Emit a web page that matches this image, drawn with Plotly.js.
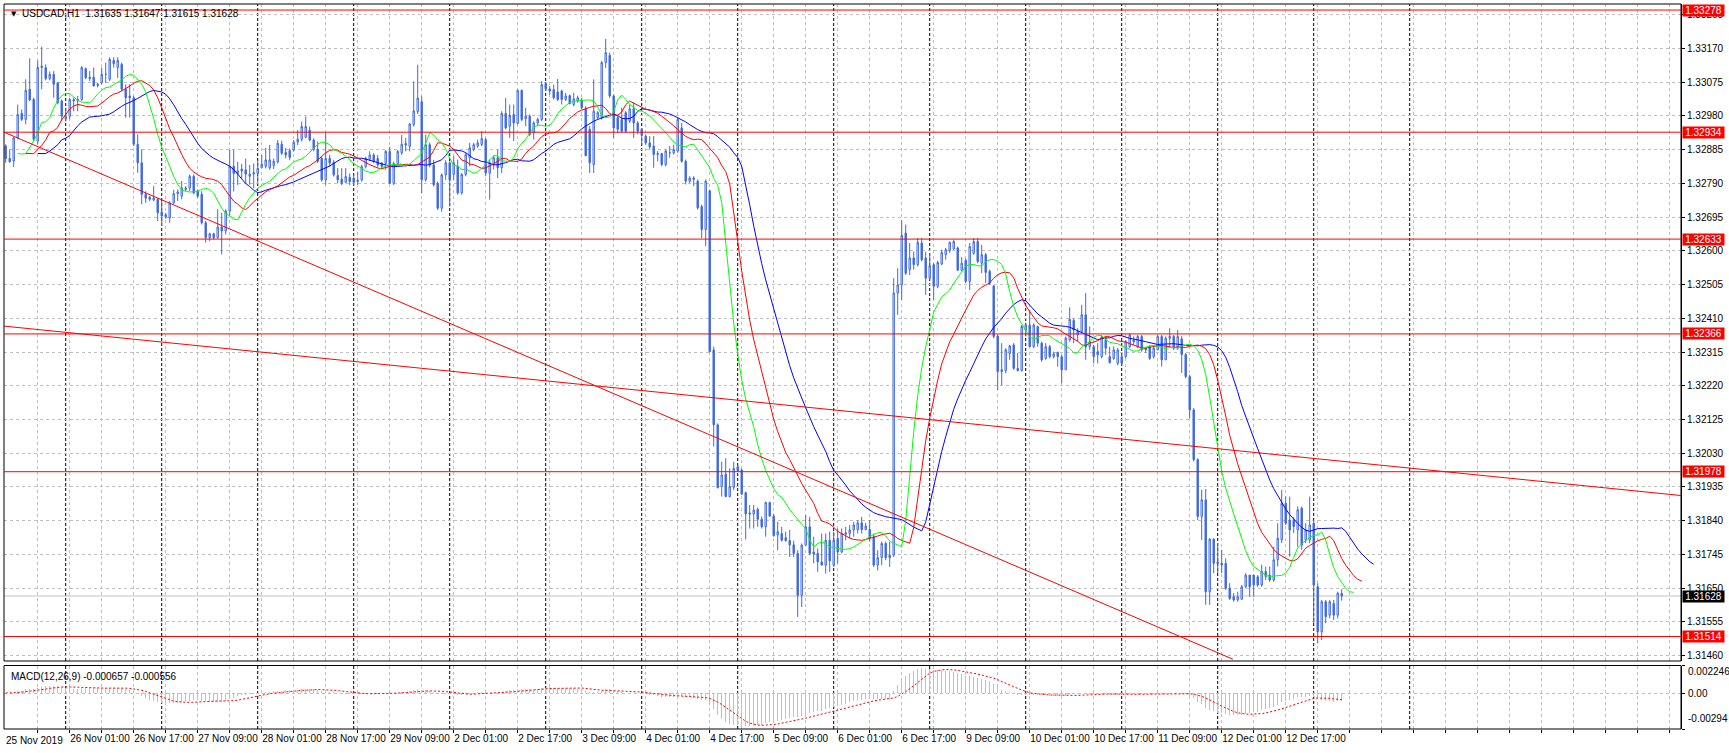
<!DOCTYPE html>
<html><head><meta charset="utf-8">
<script src="https://cdn.plot.ly/plotly-3.0.1.min.js"></script>
<style>html,body{margin:0;padding:0;background:#fff;overflow:hidden}#chart{width:1729px;height:753px}</style>
</head><body><div id="chart"></div>
<script>
// ---- USDCAD H1 candles, bar 0 = 25 Nov 2019 09:00 (one bar per trading hour) ----
const openP = [
1.32895,1.32860,1.32853,1.32918,1.32987,1.32970,1.33055,1.33026,1.32909,1.33116,
1.33116,1.33085,1.33097,1.33073,1.33022,1.32972,1.32979,1.33026,1.33022,1.33026,
1.33113,1.33085,1.33089,1.33069,1.33073,1.33097,1.33083,1.33136,1.33116,1.33125,
1.33055,1.33036,1.33031,1.32900,1.32848,1.32759,1.32751,1.32743,1.32745,1.32709,
1.32695,1.32693,1.32735,1.32761,1.32754,1.32773,1.32777,1.32810,1.32768,1.32759,
1.32679,1.32637,1.32648,1.32637,1.32667,1.32656,1.32712,1.32838,1.32818,1.32830,
1.32828,1.32810,1.32816,1.32818,1.32834,1.32838,1.32834,1.32840,1.32850,1.32900,
1.32877,1.32882,1.32884,1.32906,1.32914,1.32920,1.32940,1.32912,1.32886,1.32860,
1.32800,1.32860,1.32849,1.32812,1.32802,1.32793,1.32807,1.32805,1.32795,1.32799,
1.32837,1.32858,1.32870,1.32860,1.32847,1.32846,1.32880,1.32790,1.32846,1.32876,
1.32902,1.32894,1.32955,1.32992,1.33020,1.32800,1.32899,1.32842,1.32790,1.32720,
1.32814,1.32848,1.32815,1.32838,1.32763,1.32815,1.32862,1.32885,1.32895,1.32899,
1.32913,1.32819,1.32843,1.32862,1.32834,1.32987,1.32951,1.32984,1.32959,1.33052,
1.32972,1.32979,1.32932,1.32960,1.32970,1.33071,1.33056,1.33054,1.33047,1.33050,
1.33026,1.33037,1.33012,1.33022,1.33024,1.33000,1.32942,1.32843,1.32975,1.32975,
1.33130,1.33150,1.33036,1.32975,1.32970,1.32989,1.32965,1.33000,1.32960,1.32942,
1.32923,1.32904,1.32895,1.32871,1.32874,1.32843,1.32876,1.32876,1.32881,1.32946,
1.32852,1.32796,1.32801,1.32796,1.32725,1.32660,1.32769,1.32321,1.32110,1.31936,
1.31971,1.31908,1.31934,1.31992,1.31983,1.31919,1.31862,1.31859,1.31872,1.31844,
1.31823,1.31891,1.31853,1.31800,1.31804,1.31792,1.31784,1.31772,1.31748,1.31630,
1.31771,1.31823,1.31752,1.31748,1.31724,1.31715,1.31785,1.31715,1.31790,1.31752,
1.31802,1.31804,1.31814,1.31815,1.31834,1.31815,1.31815,1.31795,1.31715,1.31736,
1.31776,1.31743,1.31743,1.32481,1.32504,1.32650,1.32547,1.32580,1.32561,1.32622,
1.32580,1.32523,1.32561,1.32500,1.32563,1.32589,1.32601,1.32605,1.32608,1.32545,
1.32573,1.32514,1.32593,1.32626,1.32565,1.32589,1.32542,1.32501,1.32360,1.32260,
1.32263,1.32311,1.32335,1.32269,1.32263,1.32377,1.32391,1.32330,1.32387,1.32340,
1.32297,1.32330,1.32302,1.32314,1.32302,1.32265,1.32349,1.32404,1.32363,1.32373,
1.32420,1.32330,1.32330,1.32316,1.32302,1.32349,1.32302,1.32297,1.32283,1.32302,
1.32302,1.32330,1.32344,1.32330,1.32359,1.32326,1.32330,1.32302,1.32321,1.32359,
1.32293,1.32354,1.32359,1.32326,1.32352,1.32308,1.32246,1.32152,1.32012,1.31852,
1.31899,1.31640,1.31788,1.31724,1.31720,1.31720,1.31650,1.31626,1.31617,1.31619,
1.31654,1.31687,1.31687,1.31682,1.31659,1.31697,1.31687,1.31673,1.31730,1.31786,
1.31889,1.31842,1.31842,1.31814,1.31875,1.31786,1.31786,1.31833,1.31654,1.31527,
1.31612,1.31574,1.31607,1.31574,1.31635];
const highP = [
1.32900,1.32886,1.32920,1.33012,1.32998,1.33083,1.33142,1.33031,1.33136,1.33175,
1.33125,1.33105,1.33106,1.33075,1.33026,1.33003,1.33031,1.33031,1.33036,1.33120,
1.33116,1.33106,1.33116,1.33073,1.33116,1.33130,1.33145,1.33145,1.33145,1.33130,
1.33069,1.33069,1.33036,1.32928,1.32886,1.32768,1.32755,1.32782,1.32749,1.32740,
1.32707,1.32740,1.32772,1.32773,1.32796,1.32782,1.32815,1.32815,1.32773,1.32768,
1.32684,1.32651,1.32651,1.32717,1.32707,1.32717,1.32884,1.32884,1.32851,1.32845,
1.32860,1.32842,1.32846,1.32855,1.32870,1.32890,1.32898,1.32860,1.32912,1.32910,
1.32890,1.32888,1.32912,1.32940,1.32964,1.32978,1.32950,1.32917,1.32908,1.32865,
1.32934,1.32870,1.32856,1.32833,1.32833,1.32833,1.32818,1.32815,1.32823,1.32842,
1.32865,1.32880,1.32875,1.32870,1.32850,1.32884,1.32893,1.32851,1.32884,1.32926,
1.32918,1.32960,1.33077,1.33124,1.33035,1.32927,1.32905,1.32856,1.32795,1.32818,
1.32855,1.32852,1.32866,1.32857,1.32819,1.32876,1.32904,1.32904,1.32913,1.32937,
1.32918,1.32857,1.32868,1.32885,1.32993,1.33030,1.33012,1.33012,1.33054,1.33054,
1.33003,1.32984,1.32965,1.32975,1.33078,1.33075,1.33064,1.33068,1.33084,1.33054,
1.33045,1.33040,1.33045,1.33037,1.33031,1.33007,1.32951,1.33083,1.32993,1.33135,
1.33197,1.33158,1.33040,1.32979,1.33003,1.32993,1.33012,1.33017,1.32965,1.32946,
1.32928,1.32923,1.32923,1.32881,1.32876,1.32885,1.32895,1.32899,1.32975,1.32960,
1.32857,1.32810,1.32810,1.32801,1.32730,1.32801,1.32772,1.32330,1.32114,1.32006,
1.32016,1.31987,1.32006,1.31997,1.31987,1.31922,1.31884,1.31884,1.31877,1.31852,
1.31894,1.31894,1.31860,1.31837,1.31823,1.31809,1.31814,1.31784,1.31757,1.31776,
1.31856,1.31851,1.31795,1.31762,1.31804,1.31804,1.31809,1.31809,1.31818,1.31818,
1.31823,1.31828,1.31837,1.31842,1.31851,1.31834,1.31842,1.31804,1.31757,1.31781,
1.31781,1.31781,1.32523,1.32551,1.32686,1.32674,1.32622,1.32598,1.32636,1.32636,
1.32598,1.32594,1.32565,1.32572,1.32603,1.32608,1.32626,1.32631,1.32612,1.32582,
1.32579,1.32622,1.32636,1.32636,1.32617,1.32594,1.32547,1.32504,1.32363,1.32340,
1.32326,1.32335,1.32340,1.32312,1.32391,1.32396,1.32434,1.32396,1.32389,1.32344,
1.32340,1.32335,1.32316,1.32316,1.32307,1.32359,1.32441,1.32410,1.32382,1.32448,
1.32481,1.32387,1.32335,1.32340,1.32363,1.32359,1.32330,1.32330,1.32326,1.32312,
1.32349,1.32368,1.32359,1.32363,1.32363,1.32330,1.32335,1.32330,1.32363,1.32363,
1.32359,1.32382,1.32363,1.32377,1.32360,1.32312,1.32251,1.32157,1.32016,1.31927,
1.31929,1.31791,1.31791,1.31777,1.31758,1.31734,1.31664,1.31636,1.31640,1.31659,
1.31692,1.31687,1.31687,1.31687,1.31716,1.31711,1.31711,1.31767,1.31833,1.31927,
1.31908,1.31908,1.31850,1.31880,1.31880,1.31833,1.31908,1.31842,1.31664,1.31617,
1.31617,1.31617,1.31617,1.31640,1.31647];
const lowP = [
1.32848,1.32848,1.32836,1.32914,1.32965,1.32956,1.33022,1.32909,1.32900,1.33055,
1.33080,1.33080,1.33031,1.33012,1.32965,1.32965,1.32970,1.32993,1.32993,1.33022,
1.33083,1.33078,1.33064,1.33060,1.33069,1.33073,1.33078,1.33116,1.33087,1.33050,
1.32975,1.32975,1.32895,1.32820,1.32731,1.32735,1.32740,1.32740,1.32684,1.32670,
1.32690,1.32679,1.32731,1.32740,1.32745,1.32768,1.32768,1.32759,1.32749,1.32674,
1.32623,1.32627,1.32632,1.32635,1.32590,1.32646,1.32700,1.32767,1.32785,1.32805,
1.32790,1.32786,1.32776,1.32790,1.32834,1.32832,1.32828,1.32830,1.32846,1.32870,
1.32860,1.32855,1.32879,1.32898,1.32908,1.32917,1.32908,1.32880,1.32847,1.32795,
1.32786,1.32837,1.32809,1.32790,1.32785,1.32790,1.32785,1.32783,1.32786,1.32795,
1.32832,1.32854,1.32847,1.32835,1.32830,1.32828,1.32790,1.32785,1.32842,1.32870,
1.32880,1.32880,1.32950,1.32985,1.32762,1.32795,1.32835,1.32781,1.32715,1.32710,
1.32800,1.32725,1.32800,1.32758,1.32758,1.32810,1.32838,1.32880,1.32890,1.32895,
1.32810,1.32744,1.32829,1.32805,1.32819,1.32942,1.32918,1.32909,1.32956,1.32965,
1.32951,1.32923,1.32913,1.32951,1.32965,1.33050,1.33040,1.33026,1.33022,1.33012,
1.33022,1.33012,1.33007,1.33017,1.32998,1.32866,1.32819,1.32819,1.32970,1.32970,
1.33115,1.33031,1.32918,1.32932,1.32932,1.32932,1.32960,1.32918,1.32928,1.32899,
1.32899,1.32885,1.32834,1.32852,1.32838,1.32838,1.32862,1.32871,1.32876,1.32848,
1.32787,1.32791,1.32782,1.32716,1.32636,1.32613,1.32316,1.32049,1.31931,1.31908,
1.31906,1.31906,1.31926,1.31978,1.31912,1.31787,1.31818,1.31818,1.31823,1.31818,
1.31795,1.31851,1.31795,1.31757,1.31781,1.31781,1.31738,1.31738,1.31569,1.31597,
1.31771,1.31743,1.31720,1.31696,1.31715,1.31691,1.31696,1.31710,1.31720,1.31748,
1.31785,1.31790,1.31795,1.31804,1.31804,1.31813,1.31781,1.31710,1.31700,1.31715,
1.31729,1.31710,1.31738,1.32420,1.32462,1.32532,1.32532,1.32547,1.32556,1.32570,
1.32476,1.32518,1.32462,1.32495,1.32560,1.32575,1.32594,1.32603,1.32545,1.32542,
1.32509,1.32490,1.32589,1.32565,1.32537,1.32509,1.32504,1.32354,1.32208,1.32222,
1.32255,1.32293,1.32265,1.32260,1.32260,1.32359,1.32330,1.32326,1.32330,1.32288,
1.32293,1.32297,1.32297,1.32274,1.32227,1.32265,1.32344,1.32340,1.32344,1.32368,
1.32293,1.32321,1.32283,1.32283,1.32297,1.32307,1.32283,1.32293,1.32278,1.32278,
1.32297,1.32326,1.32335,1.32326,1.32316,1.32312,1.32293,1.32297,1.32321,1.32274,
1.32293,1.32330,1.32321,1.32321,1.32256,1.32241,1.32129,1.32007,1.31842,1.31786,
1.31603,1.31603,1.31692,1.31692,1.31692,1.31645,1.31617,1.31612,1.31612,1.31617,
1.31650,1.31626,1.31626,1.31654,1.31654,1.31673,1.31668,1.31668,1.31711,1.31777,
1.31828,1.31739,1.31805,1.31767,1.31758,1.31777,1.31777,1.31551,1.31495,1.31504,
1.31551,1.31565,1.31560,1.31565,1.31615];
const closeP = [
1.32860,1.32851,1.32918,1.32984,1.32970,1.33052,1.33025,1.32914,1.33116,1.33120,
1.33085,1.33097,1.33069,1.33017,1.32979,1.32979,1.33026,1.33022,1.33026,1.33116,
1.33087,1.33089,1.33064,1.33066,1.33097,1.33097,1.33139,1.33127,1.33136,1.33055,
1.33031,1.33031,1.32900,1.32848,1.32759,1.32748,1.32745,1.32749,1.32707,1.32698,
1.32702,1.32735,1.32761,1.32766,1.32777,1.32777,1.32810,1.32763,1.32754,1.32679,
1.32637,1.32648,1.32637,1.32667,1.32656,1.32712,1.32838,1.32818,1.32825,1.32825,
1.32816,1.32816,1.32820,1.32832,1.32844,1.32856,1.32856,1.32852,1.32903,1.32875,
1.32870,1.32863,1.32906,1.32914,1.32950,1.32950,1.32912,1.32886,1.32852,1.32800,
1.32860,1.32847,1.32814,1.32800,1.32790,1.32809,1.32795,1.32793,1.32799,1.32837,
1.32860,1.32870,1.32852,1.32842,1.32838,1.32880,1.32790,1.32846,1.32880,1.32900,
1.32898,1.32957,1.32994,1.33030,1.32800,1.32899,1.32842,1.32786,1.32720,1.32814,
1.32848,1.32800,1.32848,1.32763,1.32815,1.32871,1.32890,1.32899,1.32904,1.32916,
1.32819,1.32848,1.32862,1.32834,1.32987,1.32946,1.32981,1.32960,1.33052,1.32970,
1.32979,1.32928,1.32960,1.32970,1.33068,1.33056,1.33050,1.33031,1.33026,1.33026,
1.33036,1.33015,1.33028,1.33031,1.33003,1.32868,1.32848,1.32993,1.32989,1.33130,
1.33158,1.33036,1.32946,1.32942,1.32937,1.32937,1.33000,1.32960,1.32937,1.32925,
1.32904,1.32893,1.32871,1.32874,1.32843,1.32881,1.32876,1.32885,1.32970,1.32852,
1.32796,1.32805,1.32805,1.32721,1.32660,1.32796,1.32316,1.32110,1.31933,1.31969,
1.31908,1.31936,1.31987,1.31981,1.31915,1.31859,1.31859,1.31870,1.31844,1.31823,
1.31891,1.31853,1.31798,1.31809,1.31785,1.31784,1.31772,1.31748,1.31630,1.31771,
1.31823,1.31748,1.31746,1.31724,1.31715,1.31785,1.31727,1.31785,1.31752,1.31804,
1.31806,1.31814,1.31828,1.31834,1.31815,1.31825,1.31790,1.31715,1.31736,1.31776,
1.31736,1.31736,1.32481,1.32504,1.32643,1.32537,1.32580,1.32561,1.32624,1.32575,
1.32523,1.32558,1.32500,1.32567,1.32595,1.32603,1.32624,1.32626,1.32545,1.32565,
1.32514,1.32612,1.32626,1.32570,1.32589,1.32539,1.32509,1.32359,1.32260,1.32265,
1.32321,1.32332,1.32269,1.32263,1.32387,1.32391,1.32330,1.32391,1.32340,1.32293,
1.32330,1.32302,1.32310,1.32302,1.32265,1.32354,1.32407,1.32377,1.32373,1.32420,
1.32330,1.32344,1.32302,1.32307,1.32357,1.32326,1.32285,1.32321,1.32321,1.32283,
1.32344,1.32363,1.32349,1.32359,1.32321,1.32321,1.32297,1.32326,1.32359,1.32293,
1.32354,1.32359,1.32326,1.32359,1.32308,1.32246,1.32152,1.32012,1.31852,1.31899,
1.31640,1.31788,1.31720,1.31719,1.31715,1.31650,1.31621,1.31617,1.31626,1.31654,
1.31687,1.31654,1.31659,1.31659,1.31697,1.31683,1.31673,1.31730,1.31791,1.31889,
1.31833,1.31814,1.31824,1.31871,1.31772,1.31814,1.31828,1.31659,1.31527,1.31612,
1.31570,1.31612,1.31574,1.31636,1.31628];

// ---- axis labels ----
const timeLabelBars = [16,32,48,64,80,96,112,128,144,160,176,192,208,224,240,256,272,288,304,320];
const timeLabels = ['26 Nov 01:00','26 Nov 17:00','27 Nov 09:00','28 Nov 01:00','28 Nov 17:00','29 Nov 09:00',
  '2 Dec 01:00','2 Dec 17:00','3 Dec 09:00','4 Dec 01:00','4 Dec 17:00','5 Dec 09:00','6 Dec 01:00',
  '6 Dec 17:00','9 Dec 09:00','10 Dec 01:00','10 Dec 17:00','11 Dec 09:00','12 Dec 01:00','12 Dec 17:00'];
const firstLabel = '25 Nov 2019';
const dayStartBars = [15,39,63,87,111,135,159,183,207,231,255,279,303,327,351];
const priceTicks = [1.31460,1.31555,1.31650,1.31745,1.31840,1.31935,1.32030,1.32125,1.32220,1.32315,
  1.32410,1.32505,1.32600,1.32695,1.32790,1.32885,1.32980,1.33075,1.33170,1.33265];
const macdTicks = [0.002246, 0, -0.00294];
const macdTickText = ['0.002246', '0.00', '-0.00294'];

// ---- drawn objects ----
const levelPrices = [1.33278, 1.32934, 1.32633, 1.32366, 1.31978, 1.31514];
const bidPrice = 1.31628;
const trendA_x = [-0.4, 306.8], trendA_y = [1.32934, 1.31450];
const trendB_x = [-0.4, 418.8], trendB_y = [1.32388, 1.31911];
const headerText = 'USDCAD,H1  1.31635 1.31647 1.31615 1.31628';
const macdText = 'MACD(12,26,9) -0.000657 -0.000556';

// ---- indicators (Alligator 13/8/5 shifted 8/5/3 on median price, MACD 12/26/9) ----
const bars = closeP.map((_, i) => i);
const median = highP.map((h, i) => (h + lowP[i]) / 2);
function smma(src, p) { const out = []; let v = null; src.forEach(s => { v = v === null ? s : (v * (p - 1) + s) / p; out.push(v); }); return out; }
function ema(src, p) { const k = 2 / (p + 1); const out = []; let v = null; src.forEach(s => { v = v === null ? s : s * k + v * (1 - k); out.push(v); }); return out; }
const jaw = smma(median, 13), teeth = smma(median, 8), lips = smma(median, 5);
const e12 = ema(closeP, 12), e26 = ema(closeP, 26);
const macdMain = e12.map((v, i) => v - e26[i]);
const macdSignal = macdMain.map((_, i) => { const s = Math.max(0, i - 8); const w = macdMain.slice(s, i + 1); return w.reduce((a, b) => a + b, 0) / w.length; });

const BLUE = '#4169E1';
const traces = [
  {type: 'candlestick', x: bars, open: openP, high: highP, low: lowP, close: closeP, xaxis: 'x', yaxis: 'y',
   increasing: {line: {color: BLUE, width: 1}, fillcolor: '#FFFFFF'},
   decreasing: {line: {color: BLUE, width: 1}, fillcolor: BLUE}, whiskerwidth: 0, hoverinfo: 'skip'},
  {type: 'scatter', mode: 'lines', x: bars.map(i => i + 8), y: jaw, line: {color: '#0000FF', width: 1}, xaxis: 'x', yaxis: 'y', hoverinfo: 'skip'},
  {type: 'scatter', mode: 'lines', x: bars.map(i => i + 5), y: teeth, line: {color: '#FF0000', width: 1}, xaxis: 'x', yaxis: 'y', hoverinfo: 'skip'},
  {type: 'scatter', mode: 'lines', x: bars.map(i => i + 3), y: lips, line: {color: '#00FF00', width: 1}, xaxis: 'x', yaxis: 'y', hoverinfo: 'skip'},
  {type: 'scatter', mode: 'lines', x: trendA_x, y: trendA_y, line: {color: '#FF0000', width: 1}, xaxis: 'x', yaxis: 'y', hoverinfo: 'skip'},
  {type: 'scatter', mode: 'lines', x: trendB_x, y: trendB_y, line: {color: '#FF0000', width: 1}, xaxis: 'x', yaxis: 'y', hoverinfo: 'skip'},
  {type: 'bar', x: bars, y: macdMain, width: 0.3, marker: {color: '#C0C0C0', line: {width: 0}}, xaxis: 'x', yaxis: 'y2', hoverinfo: 'skip'},
  {type: 'scatter', mode: 'lines', x: bars, y: macdSignal, line: {color: '#FF0000', width: 1, dash: '2px,2px'}, xaxis: 'x', yaxis: 'y2', hoverinfo: 'skip'}
];

const gridBars = []; for (let b = 8; b <= 416; b += 8) gridBars.push(b);
const gridText = gridBars.map(b => { const k = timeLabelBars.indexOf(b); return k >= 0 ? timeLabels[k] : ''; });

const priceDomBottom = (729 - 661) / 725, macdDomTop = (729 - 665.5) / 725;
const FONT = 'Liberation Sans, Arial, sans-serif';
const shapes = [];
shapes.push({type: 'rect', xref: 'paper', yref: 'paper', x0: 0, x1: 1, y0: priceDomBottom, y1: 1, line: {color: '#000', width: 1}, layer: 'above'});
shapes.push({type: 'rect', xref: 'paper', yref: 'paper', x0: 0, x1: 1, y0: 0, y1: macdDomTop, line: {color: '#000', width: 1}, layer: 'above'});
dayStartBars.forEach(b => {
  shapes.push({type: 'line', xref: 'x', yref: 'paper', x0: b, x1: b, y0: priceDomBottom, y1: 1, line: {color: '#000', width: 1, dash: '3px,2px'}, layer: 'below'});
  shapes.push({type: 'line', xref: 'x', yref: 'paper', x0: b, x1: b, y0: 0, y1: macdDomTop, line: {color: '#000', width: 1, dash: '3px,2px'}, layer: 'below'});
});
shapes.push({type: 'line', xref: 'paper', yref: 'y', x0: 0, x1: 1, y0: bidPrice, y1: bidPrice, line: {color: '#C0C0C0', width: 1}, layer: 'below'});
levelPrices.forEach(p => shapes.push({type: 'line', xref: 'paper', yref: 'y', x0: 0, x1: 1, y0: p, y1: p, line: {color: '#FF0000', width: 1}, layer: 'above'}));

const annotations = [];
levelPrices.forEach(p => annotations.push({xref: 'paper', yref: 'y', x: 1, y: p, xanchor: 'left', yanchor: 'middle', xshift: 1, showarrow: false,
  text: p.toFixed(5), font: {family: FONT, size: 10, color: '#FFFFFF'}, bgcolor: '#FF0000', width: 41, height: 11, borderpad: 0}));
annotations.push({xref: 'paper', yref: 'y', x: 1, y: bidPrice, xanchor: 'left', yanchor: 'middle', xshift: 1, showarrow: false,
  text: bidPrice.toFixed(5), font: {family: FONT, size: 10, color: '#FFFFFF'}, bgcolor: '#000000', width: 41, height: 11, borderpad: 0});
annotations.push({xref: 'paper', yref: 'paper', x: 0, y: 1, xanchor: 'left', yanchor: 'top', xshift: 5, yshift: -4, showarrow: false,
  text: '\u25BC', font: {family: 'DejaVu Sans, sans-serif', size: 7, color: '#000'}});
annotations.push({xref: 'paper', yref: 'paper', x: 0, y: 1, xanchor: 'left', yanchor: 'top', xshift: 16, yshift: -2, showarrow: false,
  text: headerText, font: {family: FONT, size: 10, color: '#000'}});
annotations.push({xref: 'paper', yref: 'paper', x: 0, y: macdDomTop, xanchor: 'left', yanchor: 'top', xshift: 5, yshift: -3, showarrow: false,
  text: macdText, font: {family: FONT, size: 10, color: '#000'}});
annotations.push({xref: 'paper', yref: 'paper', x: 0, y: 0, xanchor: 'left', yanchor: 'top', xshift: 0, yshift: -4, showarrow: false,
  text: firstLabel, font: {family: FONT, size: 10, color: '#000'}});
annotations.push({xref: 'paper', yref: 'y2', x: 1, y: macdTicks[0], xanchor: 'left', yanchor: 'top', xshift: 5, yshift: 2, showarrow: false,
  text: macdTickText[0], font: {family: FONT, size: 10, color: '#000'}});
annotations.push({xref: 'paper', yref: 'y2', x: 1, y: macdTicks[1], xanchor: 'left', yanchor: 'middle', xshift: 5, showarrow: false,
  text: macdTickText[1], font: {family: FONT, size: 10, color: '#000'}});
annotations.push({xref: 'paper', yref: 'y2', x: 1, y: macdTicks[2], xanchor: 'left', yanchor: 'bottom', xshift: 5, yshift: 3, showarrow: false,
  text: macdTickText[2], font: {family: FONT, size: 10, color: '#000'}});

const layout = {
  width: 1729, height: 753,
  margin: {l: 4, r: 48, t: 4, b: 24, pad: 0},
  paper_bgcolor: '#FFFFFF', plot_bgcolor: '#FFFFFF',
  showlegend: false, hovermode: false, boxgap: 0.5, bargap: 0,
  font: {family: FONT, size: 10, color: '#000'},
  xaxis: {range: [-0.425, 418.825], anchor: 'y2', tickmode: 'array', tickvals: gridBars, ticktext: gridText,
    ticks: 'outside', ticklen: 3, tickcolor: '#000', tickangle: 0, ticklabelposition: 'outside right',
    showgrid: true, gridcolor: '#C0C0C0', griddash: '3px,3px', gridwidth: 1,
    zeroline: false, showline: false, rangeslider: {visible: false}, fixedrange: true,
    tickfont: {family: FONT, size: 10, color: '#000'}},
  yaxis: {domain: [priceDomBottom, 1], range: [1.31445, 1.33295], side: 'right', anchor: 'x',
    tickmode: 'array', tickvals: priceTicks, ticktext: priceTicks.map(v => v.toFixed(5)),
    ticks: 'outside', ticklen: 3, tickcolor: '#000', showgrid: true, gridcolor: '#C0C0C0', griddash: '3px,3px',
    zeroline: false, showline: true, linecolor: '#000', linewidth: 1, fixedrange: true,
    tickfont: {family: FONT, size: 10, color: '#000'}},
  yaxis2: {domain: [0, macdDomTop], range: [-0.00294, 0.002246], side: 'right', anchor: 'x',
    tickmode: 'array', tickvals: macdTicks, ticktext: ['', '', ''],
    ticks: 'outside', ticklen: 3, tickcolor: '#000', showgrid: true, gridcolor: '#C0C0C0', griddash: '3px,3px',
    zeroline: false, showline: true, linecolor: '#000', linewidth: 1, fixedrange: true},
  shapes: shapes, annotations: annotations
};
Plotly.newPlot('chart', traces, layout, {staticPlot: true, displayModeBar: false});
</script></body></html>
